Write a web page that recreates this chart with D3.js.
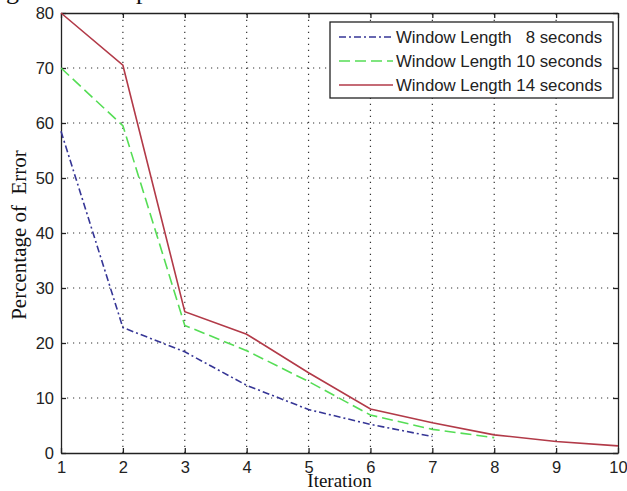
<!DOCTYPE html>
<meta charset="utf-8">
<script src="https://cdn.jsdelivr.net/npm/d3@7"></script>
<style>
  body { margin: 0; background: #fff; }
  svg text { font-family: "Liberation Sans", Arial, sans-serif; fill: #222; }
  .serif { font-family: "Liberation Serif", "Times New Roman", serif !important; fill: #111; }
</style>
<body>
<div id="viz"></div>
<script>
const width = 627, height = 491;

// data
const iterations = [1, 2, 3, 4, 5, 6, 7, 8, 9, 10];
const win8  = [58.5, 22.8, 18.4, 12.3, 7.9, 5.2, 3.0];
const win10 = [70, 59.5, 23.2, 18.6, 13.0, 6.9, 4.3, 2.8];
const win14 = [80, 70.5, 25.7, 21.6, 14.6, 8.0, 5.5, 3.3, 2.1, 1.3];
const yTicks = [0, 10, 20, 30, 40, 50, 60, 70, 80];
const seriesNames = ["Window Length   8 seconds", "Window Length 10 seconds", "Window Length 14 seconds"];

const margin = {top: 13, right: 9, bottom: 38, left: 61};

const svg = d3.select("#viz").append("svg")
  .attr("width", width)
  .attr("height", height);

const x = d3.scaleLinear().domain([1, 10]).range([margin.left, width - margin.right]);
const y = d3.scaleLinear().domain([0, 80]).range([height - margin.bottom, margin.top]);

// grid
svg.append("g").selectAll("line.gx")
  .data(iterations.slice(1, -1))
  .enter().append("line")
  .attr("x1", d => x(d)).attr("x2", d => x(d))
  .attr("y1", y(0)).attr("y2", y(80))
  .attr("stroke", "#333").attr("stroke-width", 1.2)
  .attr("stroke-dasharray", "1.2,4.8");

svg.append("g").selectAll("line.gy")
  .data(yTicks.slice(1, -1))
  .enter().append("line")
  .attr("y1", d => y(d)).attr("y2", d => y(d))
  .attr("x1", x(1)).attr("x2", x(10))
  .attr("stroke", "#333").attr("stroke-width", 1.2)
  .attr("stroke-dasharray", "1.2,4.8");

// axes (matlab style: ticks inside)
const tick = 5;
const xB = svg.append("g").attr("transform", `translate(0,${y(0)})`)
  .call(d3.axisBottom(x).tickValues(iterations).tickFormat(d3.format("d")).tickSizeInner(-tick).tickSizeOuter(0).tickPadding(8));
const xT = svg.append("g").attr("transform", `translate(0,${y(80)})`)
  .call(d3.axisTop(x).tickValues(iterations).tickFormat("").tickSizeInner(-tick).tickSizeOuter(0));
const yL = svg.append("g").attr("transform", `translate(${x(1)},0)`)
  .call(d3.axisLeft(y).tickValues(yTicks).tickSizeInner(-tick).tickSizeOuter(0).tickPadding(7));
const yR = svg.append("g").attr("transform", `translate(${x(10)},0)`)
  .call(d3.axisRight(y).tickValues(yTicks).tickFormat("").tickSizeInner(-tick).tickSizeOuter(0));

[xB, xT, yL, yR].forEach(g => {
  g.select(".domain").attr("stroke", "#222").attr("stroke-width", 1.3);
  g.selectAll(".tick line").attr("stroke", "#222").attr("stroke-width", 1.3);
  g.selectAll("text").attr("font-size", 16.5).attr("fill", "#222")
    .attr("font-family", "Liberation Sans, Arial, sans-serif");
});

// lines
const line = d3.line().x((d, i) => x(iterations[i])).y(d => y(d));
const series = [
  {vals: win8,  color: "#363696", dash: "7,3,2,3"},
  {vals: win10, color: "#55dd55", dash: "11,5"},
  {vals: win14, color: "#b23a48", dash: null}
];

svg.append("g").selectAll("path")
  .data(series)
  .enter().append("path")
  .attr("d", d => line(d.vals))
  .attr("fill", "none")
  .attr("stroke", d => d.color)
  .attr("stroke-width", 1.6)
  .attr("stroke-dasharray", d => d.dash);

// legend
const lg = svg.append("g").attr("transform", "translate(330,22)");
lg.append("rect")
  .attr("width", 283).attr("height", 76)
  .attr("fill", "#fff").attr("stroke", "#222").attr("stroke-width", 1.3);

const rows = lg.selectAll("g.row")
  .data(series)
  .enter().append("g")
  .attr("transform", (d, i) => `translate(0,${15 + i * 24})`);

rows.append("line")
  .attr("x1", 9).attr("x2", 63)
  .attr("stroke", d => d.color)
  .attr("stroke-width", 1.6)
  .attr("stroke-dasharray", d => d.dash);

rows.append("text")
  .attr("x", 66).attr("y", 6)
  .attr("font-size", 16.8)
  .style("white-space", "pre")
  .text((d, i) => seriesNames[i]);

// axis labels
svg.append("text")
  .attr("class", "serif")
  .attr("x", (x(1) + x(10)) / 2).attr("y", 487)
  .attr("text-anchor", "middle")
  .attr("font-size", 19)
  .text("Iteration");

svg.append("text")
  .attr("class", "serif")
  .attr("transform", `translate(26,${y(40) + 2}) rotate(-90)`)
  .attr("text-anchor", "middle")
  .attr("font-size", 21)
  .style("white-space", "pre")
  .text("Percentage of  Error");

// caption above the chart, cut off by the page edge
svg.append("text").attr("class", "serif")
  .attr("x", 6).attr("y", -1).attr("font-size", 26).text("g");
svg.append("text").attr("class", "serif")
  .attr("x", 136).attr("y", -1).attr("font-size", 26).text("p");
</script>
</body>
